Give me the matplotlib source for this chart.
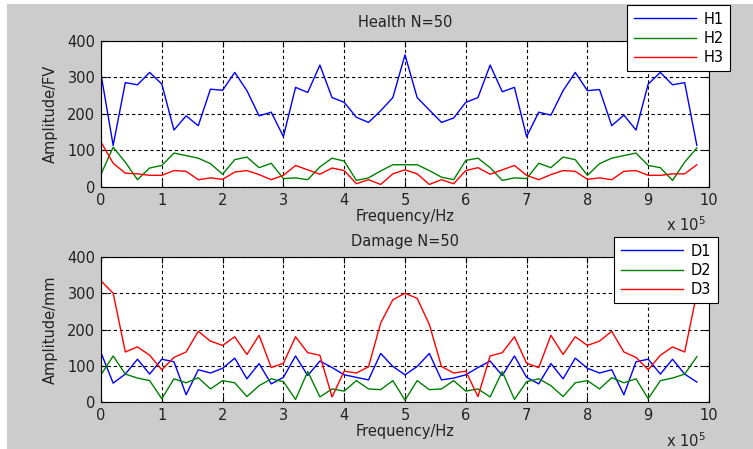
import matplotlib
matplotlib.use('Agg')
import matplotlib.pyplot as plt
from matplotlib.patches import Rectangle

plt.rcParams['font.family'] = ['DejaVu Sans']

# frequency axis (x 10^5 Hz)
freq = [0.0, 0.2, 0.4, 0.6, 0.8, 1.0, 1.2, 1.4, 1.6, 1.8,
        2.0, 2.2, 2.4, 2.6, 2.8, 3.0, 3.2, 3.4, 3.6, 3.8,
        4.0, 4.2, 4.4, 4.6, 4.8, 5.0, 5.2, 5.4, 5.6, 5.8,
        6.0, 6.2, 6.4, 6.6, 6.8, 7.0, 7.2, 7.4, 7.6, 7.8,
        8.0, 8.2, 8.4, 8.6, 8.8, 9.0, 9.2, 9.4, 9.6, 9.8]

# health spectra
H1 = [309, 114, 286, 280, 314, 282, 156, 195, 168, 268,
      265, 314, 264, 195, 205, 138, 273, 259, 334, 245,
      232, 191, 177, 209, 245, 362, 245, 211, 177, 189,
      232, 245, 334, 261, 273, 138, 205, 197, 264, 314,
      264, 267, 168, 197, 156, 282, 314, 280, 286, 114]
H2 = [35, 109, 68, 20, 52, 59, 93, 86, 79, 64,
      35, 75, 82, 53, 65, 23, 25, 20, 55, 79,
      71, 18, 25, 44, 61, 61, 61, 45, 27, 20,
      73, 79, 53, 18, 25, 23, 65, 53, 82, 75,
      32, 64, 79, 86, 93, 59, 53, 18, 68, 107]
H3 = [123, 65, 38, 36, 32, 32, 45, 43, 20, 25,
      21, 41, 45, 34, 20, 32, 59, 47, 35, 52,
      45, 9, 20, 7, 36, 47, 36, 7, 20, 9,
      45, 53, 35, 47, 59, 32, 20, 34, 45, 43,
      21, 25, 20, 43, 45, 32, 32, 36, 36, 61]

# damage spectra
D1 = [136, 52, 77, 118, 77, 118, 111, 20, 89, 80,
      93, 121, 64, 106, 50, 68, 127, 73, 113, 95,
      75, 68, 61, 134, 98, 75, 98, 134, 61, 66,
      75, 95, 113, 73, 127, 68, 50, 106, 64, 121,
      93, 80, 89, 20, 111, 118, 77, 118, 77, 55]
D2 = [75, 127, 77, 66, 59, 9, 64, 53, 67, 36,
      59, 53, 15, 45, 64, 56, 7, 84, 14, 36,
      30, 59, 36, 34, 59, 5, 59, 34, 36, 59,
      30, 36, 14, 84, 7, 56, 64, 45, 15, 53,
      59, 36, 67, 53, 64, 9, 59, 66, 77, 125]
D3 = [334, 300, 138, 152, 129, 89, 123, 138, 195, 168,
      156, 180, 131, 184, 95, 107, 180, 136, 129, 14,
      85, 80, 97, 218, 282, 300, 286, 214, 98, 80,
      85, 15, 127, 136, 180, 107, 95, 184, 131, 180,
      156, 168, 195, 138, 123, 89, 129, 152, 138, 300]

W, H = 753, 449
fig = plt.figure(figsize=(W / 100, H / 100), dpi=100, facecolor='white')
# grey matlab window background
fig.patches.append(Rectangle((7 / W, 0), 1, 1 - 4 / H, transform=fig.transFigure,
                             facecolor='#cccccc', edgecolor='none', zorder=-10))

ax1 = fig.add_axes([101 / W, 1 - 187 / H, 608 / W, 146 / H])
ax2 = fig.add_axes([101 / W, 1 - 402 / H, 608 / W, 145 / H])

colors = ['#0000ff', '#008000', '#ff0000']
txt = '#222222'

def style(ax, title, ylabel, tpad):
    ax.set_xlim(0, 10)
    ax.set_ylim(0, 400)
    ax.set_xticks(range(0, 11))
    ax.set_yticks([0, 100, 200, 300, 400])
    ax.grid(True, color='black', linestyle=(0, (3, 2.5)), linewidth=0.8)
    ax.tick_params(direction='in', length=4, width=0.8, top=True, right=True,
                   labelsize=10.5, colors='black', labelcolor=txt, pad=4)
    for s in ax.spines.values():
        s.set_linewidth(0.8)
        s.set_color('black')
    ax.set_title(title, fontsize=10.5, color=txt, pad=tpad)
    ax.set_xlabel('Frequency/Hz', fontsize=10.5, color=txt, labelpad=1)
    ax.set_ylabel(ylabel, fontsize=10.5, color=txt, labelpad=7)

ax1.plot(freq, H1, color=colors[0], lw=1, label='H1')
ax1.plot(freq, H2, color=colors[1], lw=1, label='H2')
ax1.plot(freq, H3, color=colors[2], lw=1, label='H3')
style(ax1, 'Health N=50', 'Amplitude/FV', 10)

ax2.plot(freq, D1, color=colors[0], lw=1, label='D1')
ax2.plot(freq, D2, color=colors[1], lw=1, label='D2')
ax2.plot(freq, D3, color=colors[2], lw=1, label='D3')
style(ax2, 'Damage N=50', 'Amplitude/mm', 8)

for ax, (lx, ly) in [(ax1, (627, 5)), (ax2, (614, 237))]:
    leg = ax.legend(loc='upper left', bbox_to_anchor=(lx / W, 1 - ly / H),
                    bbox_transform=fig.transFigure, fontsize=10.5, fancybox=False,
                    framealpha=1, edgecolor='black', borderaxespad=0,
                    handlelength=4.3, handletextpad=0.5, borderpad=0.45,
                    labelspacing=0.28)
    leg.get_frame().set_linewidth(0.8)
    leg.set_zorder(20)

# exponent labels
fig.text(666 / W, 1 - 231 / H, r'x 10$^5$', fontsize=10.5, color=txt)
fig.text(666 / W, 1 - 447 / H, r'x 10$^5$', fontsize=10.5, color=txt)

fig.savefig('out.png', dpi=100, facecolor=fig.get_facecolor())
